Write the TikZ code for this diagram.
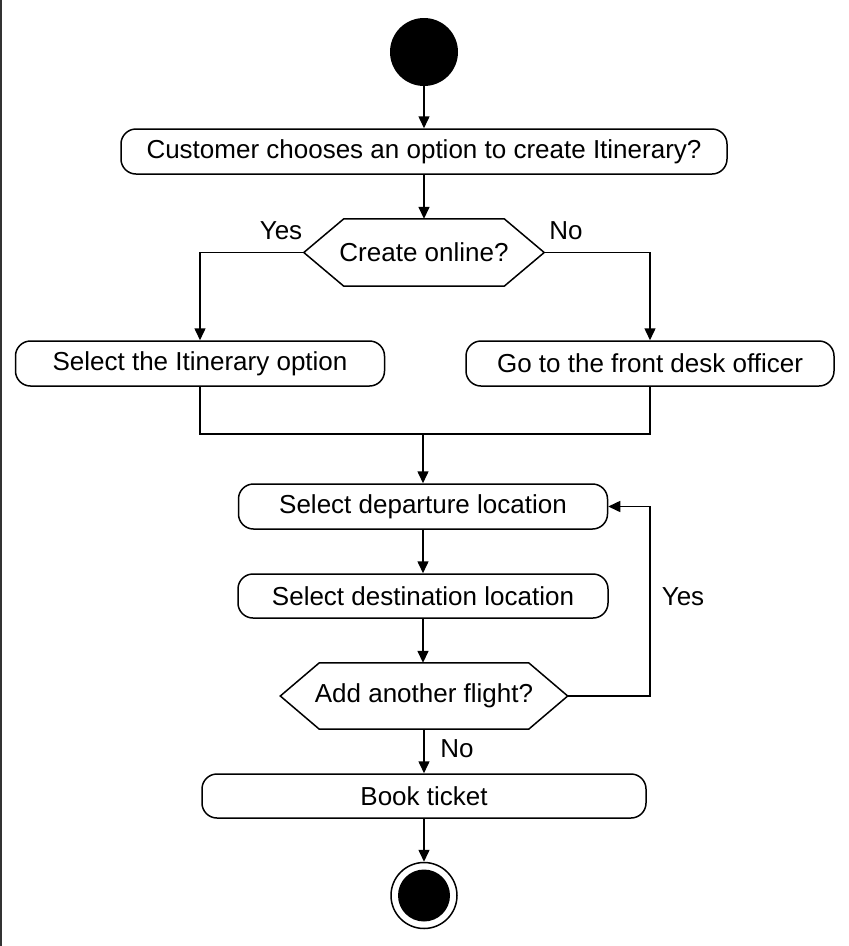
\documentclass[tikz,border=0pt]{standalone}
\usepackage{fontspec}
\setmainfont{Liberation Sans}
\usetikzlibrary{arrows.meta,calc}
\begin{document}
\begin{tikzpicture}[x=1pt,y=-1pt,
  txt/.style={font=\fontsize{26}{31}\selectfont},
  act/.style={txt,draw,rounded corners=15pt,line width=1.5pt,minimum height=45pt,inner sep=0pt},
  hexbox/.style={txt,inner sep=0pt},
  flow/.style={line width=1.5pt,-{Triangle[length=12pt,width=11pt]}},
  plain/.style={line width=1.5pt},
  lbl/.style={txt,inner sep=0pt}
]
\useasboundingbox (0,0) rectangle (849,946);
\draw[line width=2pt,black!80] (1,0) -- (1,946);

\node[circle,fill=black,minimum size=68pt,inner sep=0pt] (start) at (424,52) {};
\node[act,minimum width=606pt] (box1) at (424,151.5) {Customer chooses an option to create Itinerary?};
\node[hexbox,minimum width=240pt,minimum height=67pt] (h1) at (424,252.5) {Create online?};
\draw[plain] (h1.west) -- ([xshift=40pt]h1.north west) -- ([xshift=-40pt]h1.north east) -- (h1.east) -- ([xshift=-40pt]h1.south east) -- ([xshift=40pt]h1.south west) -- cycle;

\node[act,minimum width=369pt] (box2) at (200,363.5) {Select the Itinerary option};
\node[act,minimum width=368pt] (box3) at (650,363.5) {Go to the front desk officer};

\node[act,minimum width=369pt] (box4) at (423,506.5) {Select departure location};
\node[act,minimum width=370pt,minimum height=44pt] (box5) at (423,596) {Select destination location};
\node[hexbox,minimum width=287pt,minimum height=66pt] (h2) at (424,696) {Add another flight?};
\draw[plain] (h2.west) -- ([xshift=39pt]h2.north west) -- ([xshift=-39pt]h2.north east) -- (h2.east) -- ([xshift=-39pt]h2.south east) -- ([xshift=39pt]h2.south west) -- cycle;

\node[act,minimum width=444pt,minimum height=44pt] (box6) at (424,796) {Book ticket};
\node[circle,draw,line width=1.5pt,minimum size=66pt,inner sep=0pt] (end) at (424,895.5) {};
\node[circle,fill=black,minimum size=52pt,inner sep=0pt] (endin) at (end.center) {};

% connectors
\draw[flow] (start) -- (box1.north);
\draw[flow] (box1.south) -- (h1.north);
\coordinate (yl) at (200,252.5);
\coordinate (nr) at (650,252.5);
\draw[flow] (h1.west) -- (yl) -- (box2.north);
\draw[flow] (h1.east) -- (nr) -- (box3.north);
\coordinate (jl) at (200,434);
\coordinate (jr) at (650,434);
\coordinate (jm) at (423,434);
\draw[plain] (box2.south) -- (jl) -- (jr) -- (box3.south);
\draw[flow] (jm) -- (box4.north);
\draw[flow] (box4.south) -- (box5.north);
\draw[flow] (box5.south) -- (h2.north -| box5.south);
\coordinate (lp) at (650,696);
\draw[flow] (h2.east) -- (lp) |- (box4.east);
\draw[flow] (h2.south) -- (box6.north);
\draw[flow] (box6.south) -- (end.north);

% labels
\node[lbl] (l1) at (281,231) {Yes};
\node[lbl] (l2) at (566,231) {No};
\node[lbl] (l3) at (683,597) {Yes};
\node[lbl] (l4) at (457,749) {No};
\end{tikzpicture}
\end{document}
